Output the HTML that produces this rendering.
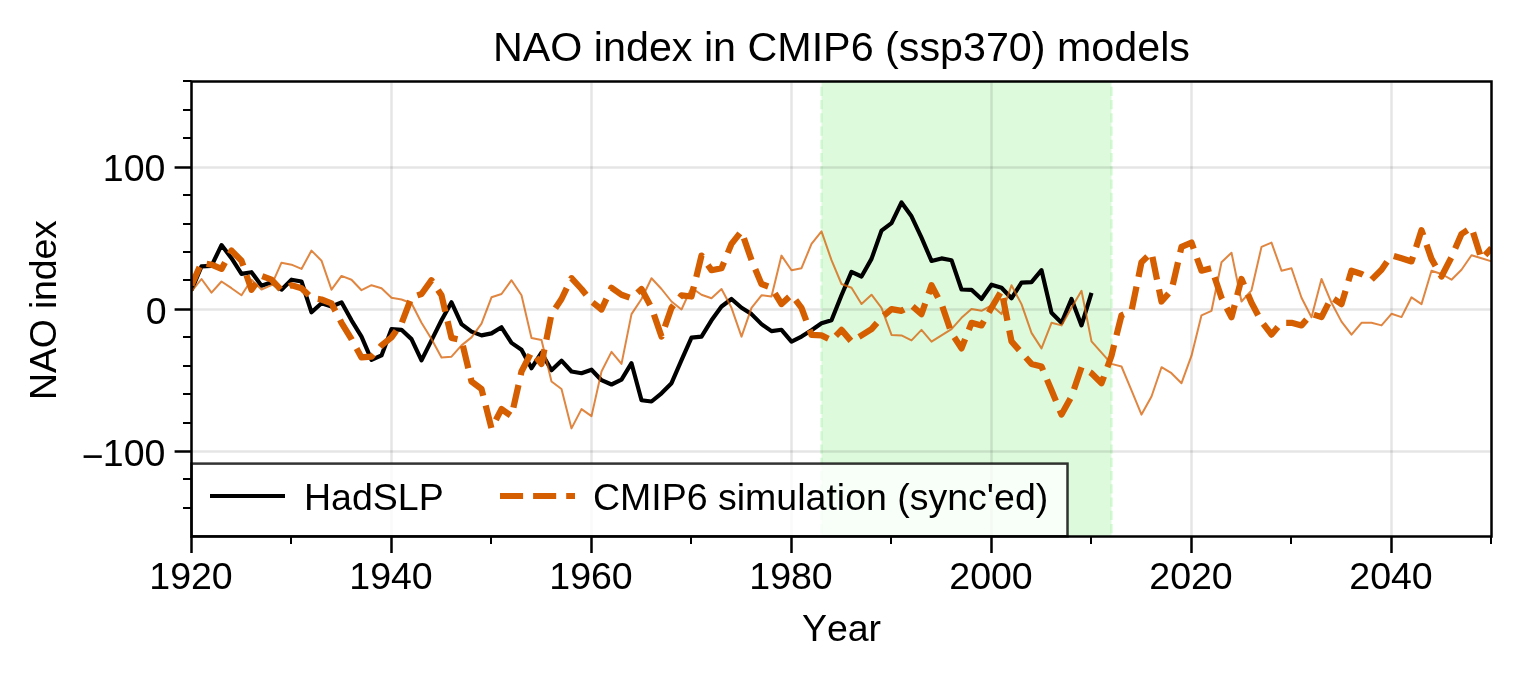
<!DOCTYPE html>
<html><head><meta charset="utf-8"><title>NAO index in CMIP6 (ssp370) models</title>
<style>html,body{margin:0;padding:0;background:#fff;}svg{display:block;}text{font-family:"Liberation Sans",sans-serif;fill:#000;}</style></head><body>
<svg width="1521" height="678" viewBox="0 0 1521 678">
<rect x="0" y="0" width="1521" height="678" fill="#fff"/>
<clipPath id="ax"><rect x="191.5" y="81.5" width="1300.0" height="455.0"/></clipPath>
<rect x="821.5" y="81.5" width="290.0" height="455.0" fill="#90ee90" fill-opacity="0.3"/>
<path d="M821.5 81.5V536.5M1111.5 81.5V536.5" stroke="#90ee90" stroke-opacity="0.3" stroke-width="2.5" stroke-dasharray="9.25 4" stroke-dashoffset="7.95" fill="none"/>
<path d="M191.5 81.5V536.5M391.5 81.5V536.5M591.5 81.5V536.5M791.5 81.5V536.5M991.5 81.5V536.5M1191.5 81.5V536.5M1391.5 81.5V536.5" stroke="#000" stroke-opacity="0.1" stroke-width="2.5" fill="none"/>
<path d="M191.5 451.5H1491.5M191.5 309.5H1491.5M191.5 167.5H1491.5" stroke="#000" stroke-opacity="0.1" stroke-width="2.5" fill="none"/>
<g clip-path="url(#ax)" fill="none" stroke-linejoin="round">
<polyline points="191.5,290.2 201.5,266.4 211.5,265.9 221.5,245.1 231.5,258.2 241.5,273.9 251.5,272.2 261.5,285.7 271.5,282.2 281.5,289.7 291.5,279.7 301.5,281.5 311.5,312.3 321.5,303.3 331.5,306.5 341.5,302.3 351.5,320.3 361.5,336.6 371.5,359.9 381.5,355.4 391.5,329.1 401.5,329.8 411.5,339.1 421.5,360.4 431.5,340.4 441.5,320.3 451.5,302.3 461.5,324.1 471.5,331.6 481.5,335.4 491.5,333.4 501.5,327.3 511.5,342.9 521.5,349.7 531.5,368.2 541.5,352.7 551.5,370.2 561.5,360.7 571.5,371.5 581.5,373.2 591.5,369.7 601.5,380.2 611.5,384.5 621.5,379.7 631.5,363.2 641.5,400.3 651.5,401.5 661.5,393.3 671.5,383.2 681.5,360.2 691.5,337.6 701.5,336.6 711.5,320.3 721.5,306.5 731.5,299.0 741.5,307.8 751.5,314.1 761.5,324.1 771.5,331.1 781.5,329.8 791.5,341.6 801.5,336.6 811.5,330.3 821.5,323.3 831.5,320.3 841.5,295.3 851.5,271.9 861.5,276.5 871.5,258.9 881.5,230.6 891.5,223.1 901.5,202.5 911.5,216.3 921.5,237.6 931.5,260.9 941.5,258.4 951.5,260.2 961.5,289.5 971.5,289.8 981.5,299.0 991.5,284.7 1001.5,287.8 1011.5,298.3 1021.5,282.7 1031.5,282.2 1041.5,270.2 1051.5,312.8 1061.5,322.8 1071.5,299.0 1081.5,325.4 1091.5,292.8" stroke="#000" stroke-width="4.17"/>
<polyline points="191.5,291.5 201.5,279.0 211.5,292.7 221.5,281.5 231.5,288.2 241.5,295.3 251.5,279.7 261.5,289.5 271.5,285.2 281.5,262.7 291.5,264.7 301.5,268.9 311.5,250.6 321.5,260.7 331.5,289.7 341.5,275.9 351.5,279.7 361.5,290.2 371.5,285.2 381.5,288.2 391.5,297.8 401.5,299.5 411.5,303.3 421.5,322.8 431.5,339.1 441.5,357.4 451.5,356.7 461.5,345.4 471.5,337.4 481.5,323.6 491.5,297.3 501.5,294.0 511.5,280.2 521.5,295.3 531.5,337.9 541.5,340.1 551.5,381.5 561.5,389.0 571.5,428.4 581.5,409.1 591.5,416.1 601.5,371.5 611.5,351.9 621.5,363.9 631.5,314.1 641.5,299.0 651.5,278.2 661.5,289.0 671.5,301.5 681.5,309.5 691.5,287.7 701.5,294.7 711.5,298.3 721.5,289.0 731.5,307.8 741.5,336.6 751.5,307.8 761.5,295.3 771.5,296.5 781.5,255.6 791.5,270.2 801.5,268.2 811.5,243.9 821.5,231.3 831.5,260.2 841.5,284.0 851.5,287.7 861.5,304.0 871.5,294.7 881.5,307.8 891.5,334.9 901.5,335.4 911.5,340.4 921.5,329.9 931.5,341.6 941.5,335.4 951.5,329.1 961.5,317.8 971.5,309.1 981.5,310.8 991.5,305.3 1001.5,314.1 1011.5,285.3 1021.5,304.1 1031.5,332.9 1041.5,348.4 1051.5,322.8 1061.5,325.4 1071.5,307.8 1081.5,290.8 1091.5,341.4 1101.5,352.7 1111.5,363.9 1121.5,366.5 1131.5,390.3 1141.5,414.6 1151.5,396.5 1161.5,367.2 1171.5,373.2 1181.5,383.2 1191.5,355.7 1201.5,315.3 1211.5,310.8 1221.5,262.2 1231.5,252.7 1241.5,301.5 1251.5,290.3 1261.5,246.9 1271.5,242.6 1281.5,270.7 1291.5,268.2 1301.5,297.8 1311.5,317.3 1321.5,279.0 1331.5,302.8 1341.5,321.6 1351.5,334.6 1361.5,322.8 1371.5,322.8 1381.5,325.4 1391.5,313.8 1401.5,317.1 1411.5,297.3 1421.5,304.1 1431.5,270.7 1441.5,274.0 1451.5,279.7 1461.5,269.7 1471.5,255.2 1481.5,258.2 1491.5,261.4" stroke="#d55e00" stroke-opacity="0.75" stroke-width="2"/>
<path d="M191.5 285.2L199.6 267.0M206.6 263.7L211.5 264.7L221.5 268.9L225.0 262.5M229.8 253.7L231.5 250.6L241.5 260.7L243.3 265.8M246.5 275.2L251.5 289.7L256.1 283.4M262.2 276.2L271.5 279.7L280.6 289.3M289.3 286.3L291.5 285.2L301.5 288.2L308.9 295.3M317.8 298.9L321.5 299.5L331.5 303.3L335.4 311.0M340.0 319.9L341.5 322.8L351.5 339.1L351.8 339.7M356.6 348.5L361.5 357.4L371.5 356.7L373.5 354.5M380.1 347.0L381.5 345.4L391.5 337.4L396.3 330.7M401.9 322.5L410.1 300.9M417.3 295.4L421.5 294.0L431.5 280.2L432.4 281.6M438.0 290.0L441.5 295.3L445.3 311.6M447.6 321.3L451.5 337.9L457.5 339.2M462.9 345.8L468.3 368.3M470.7 378.0L471.5 381.5L481.5 389.0L483.2 395.8M485.7 405.5L491.4 427.9M495.9 419.9L501.5 409.1L510.5 415.4M513.4 407.6L518.5 385.0M520.7 375.2L521.5 371.5L530.3 354.3M536.2 357.5L541.5 363.9L544.4 349.4M546.4 339.6L550.9 317.0M555.4 308.2L561.5 299.0L566.7 288.1M571.1 279.1L571.5 278.2L581.5 289.0L586.1 294.8M592.6 302.4L601.5 309.5L606.4 298.9M610.5 289.8L611.5 287.7L621.5 294.7L629.6 297.6M637.4 292.8L641.5 289.0L650.1 305.1M653.9 314.6L661.5 336.6L661.7 336.1M664.9 326.7L671.5 307.8L673.5 305.3M679.7 297.5L681.5 295.3L691.5 296.5L693.9 286.6M696.3 276.9L701.5 255.6L702.2 256.6M707.9 264.9L711.5 270.2L721.5 268.2L724.0 262.2M727.8 252.9L731.5 243.9L739.8 233.4M743.9 238.2L751.5 260.1M755.3 269.3L761.5 284.0L768.2 286.5M774.9 293.3L781.5 304.0L789.2 296.9M795.7 300.2L801.5 307.8L806.2 320.5M809.7 329.9L811.5 334.9L821.5 335.4L828.4 338.8M835.8 335.8L841.5 329.9L850.9 340.9M859.0 336.9L861.5 335.4L871.5 329.1L877.0 322.9M883.9 315.7L891.5 309.1L901.5 310.8L904.1 309.4M912.6 306.3L921.5 314.1L925.2 303.4M928.5 293.9L931.5 285.3L938.0 297.6M942.4 306.6L949.9 328.4M954.3 337.3L961.5 348.4L965.1 339.2M968.8 329.9L971.5 322.8L981.5 325.4L983.9 321.1M988.8 312.5L991.5 307.8L1000.3 292.9M1003.0 298.1L1007.4 320.7M1009.3 330.4L1011.5 341.4L1019.2 350.1M1025.8 357.5L1031.5 363.9L1041.5 366.5L1043.1 370.4M1047.0 379.6L1051.5 390.3L1055.9 400.9M1059.7 410.2L1061.5 414.6L1070.4 398.5M1074.0 389.2L1081.5 367.3M1090.0 372.3L1091.5 373.2L1101.5 383.2L1104.0 376.5M1107.4 367.1L1111.5 355.7L1114.1 345.0M1116.5 335.3L1121.5 315.3L1123.8 314.3M1131.8 309.3L1136.5 286.6M1138.5 276.8L1141.5 262.2L1147.4 256.5M1152.4 256.9L1157.0 279.6M1159.0 289.4L1161.5 301.5L1168.6 293.5M1172.8 284.8L1178.0 262.2M1180.2 252.5L1181.5 246.9L1191.5 242.6L1193.7 248.8M1197.0 258.2L1201.5 270.7L1211.1 268.3M1214.6 277.2L1221.5 297.8L1222.2 299.1M1226.7 308.0L1231.5 317.3L1234.7 305.1M1237.2 295.3L1241.5 279.0L1244.0 284.9M1247.9 294.2L1251.5 302.8L1258.1 315.2M1263.3 323.9L1271.5 334.6L1277.9 327.0M1286.2 322.8L1291.5 322.8L1301.5 325.4L1306.5 319.6M1313.8 314.6L1321.5 317.1L1328.3 303.7M1333.8 298.9L1341.5 304.1L1345.5 290.8M1348.4 281.2L1351.5 270.7L1361.5 274.0L1363.0 274.8M1371.6 279.6L1381.5 269.7L1387.0 261.7M1393.8 255.9L1401.5 258.2L1411.5 261.4L1413.0 256.8M1416.1 247.2L1421.5 230.3L1423.3 235.3M1426.6 244.8L1431.5 258.9L1435.5 266.0M1440.5 274.7L1441.5 276.5L1451.2 257.8M1455.2 248.6L1461.5 234.0L1467.5 230.1M1473.1 232.5L1480.1 254.6M1485.1 255.1L1491.5 248.2" stroke="#d55e00" stroke-width="6.25"/>
</g>
<rect x="191.5" y="463.6" width="876.0" height="72.7" fill="#fff" fill-opacity="0.8" stroke="#000" stroke-opacity="0.8" stroke-width="2.5"/>
<path d="M210 496H285" stroke="#000" stroke-width="4.17" fill="none"/>
<path d="M500 496H575" stroke="#d55e00" stroke-width="6.1" stroke-dasharray="23.1 10" fill="none"/>
<text x="304" y="510.2" font-size="37.5">HadSLP</text>
<text x="593" y="510.2" font-size="37.5">CMIP6 simulation (sync'ed)</text>
<path d="M191.5 536.5V553M391.5 536.5V553M591.5 536.5V553M791.5 536.5V553M991.5 536.5V553M1191.5 536.5V553M1391.5 536.5V553M191.5 451.5H174.6M191.5 309.5H174.6M191.5 167.5H174.6" stroke="#000" stroke-width="2.5" fill="none"/>
<path d="M291.0 536.5V544M491.0 536.5V544M691.0 536.5V544M891.0 536.5V544M1091.0 536.5V544M1291.0 536.5V544M1491.0 536.5V544M191.5 508.0H183M191.5 479.0H183M191.5 423.0H183M191.5 394.0H183M191.5 366.0H183M191.5 337.0H183M191.5 280.0H183M191.5 252.0H183M191.5 224.0H183M191.5 195.0H183M191.5 138.0H183M191.5 110.0H183M191.5 81.0H183" stroke="#000" stroke-width="2" fill="none"/>
<rect x="191.5" y="81.5" width="1300.0" height="455.0" fill="none" stroke="#000" stroke-width="2.5"/>
<text x="191.0" y="589" font-size="37.5" text-anchor="middle">1920</text>
<text x="391.0" y="589" font-size="37.5" text-anchor="middle">1940</text>
<text x="591.0" y="589" font-size="37.5" text-anchor="middle">1960</text>
<text x="791.0" y="589" font-size="37.5" text-anchor="middle">1980</text>
<text x="991.0" y="589" font-size="37.5" text-anchor="middle">2000</text>
<text x="1191.0" y="589" font-size="37.5" text-anchor="middle">2020</text>
<text x="1391.0" y="589" font-size="37.5" text-anchor="middle">2040</text>
<text y="465.7" font-size="37.5"><tspan x="81.8" dy="3.2">−</tspan><tspan x="102.82" dy="-3.2">100</tspan></text>
<text x="166.6" y="323.5" font-size="37.5" text-anchor="end">0</text>
<text x="165.4" y="181.4" font-size="37.5" text-anchor="end">100</text>
<text x="841.5" y="641" font-size="37.5" text-anchor="middle" style="font-kerning:none">Year</text>
<text transform="translate(56.3 310.1) rotate(-90)" font-size="37.5" text-anchor="middle" textLength="179.8" lengthAdjust="spacing">NAO index</text>
<text x="841.5" y="61" font-size="41.25" text-anchor="middle">NAO index in CMIP6 (ssp370) models</text>
</svg></body></html>
